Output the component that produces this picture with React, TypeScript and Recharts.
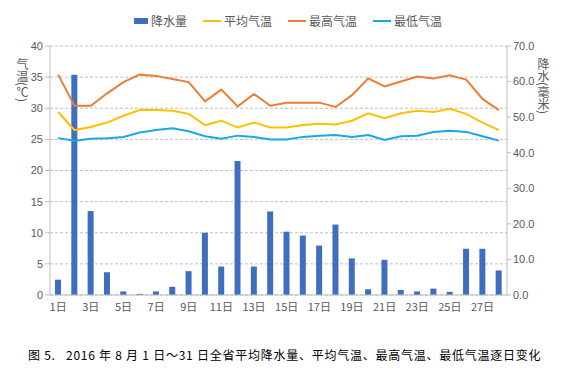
import React from 'react';
import { ComposedChart, Bar, Line, XAxis, YAxis, CartesianGrid } from 'recharts';

// 日期
const days = ['1日', '2日', '3日', '4日', '5日', '6日', '7日', '8日', '9日', '10日', '11日', '12日', '13日', '14日',
  '15日', '16日', '17日', '18日', '19日', '20日', '21日', '22日', '23日', '24日', '25日', '26日', '27日', '28日'];

// 降水量 (毫米)
const rain = [4.3, 61.9, 23.6, 6.4, 1.0, 0.3, 1.0, 2.3, 6.7, 17.5, 8.0, 37.7, 8.0, 23.5,
  17.8, 16.7, 13.9, 19.8, 10.3, 1.6, 9.9, 1.4, 1.0, 1.8, 0.9, 13.0, 13.0, 6.9];

// 平均气温 (℃)
const avgTemp = [29.4, 26.5, 27.0, 27.7, 28.8, 29.7, 29.7, 29.6, 29.1, 27.3, 28.0, 26.9, 27.7, 26.9,
  26.9, 27.3, 27.5, 27.4, 28.0, 29.2, 28.4, 29.2, 29.6, 29.4, 29.9, 29.1, 27.7, 26.5];

// 最高气温 (℃)
const maxTemp = [35.4, 30.4, 30.4, 32.4, 34.2, 35.4, 35.2, 34.7, 34.2, 31.1, 33.0, 30.3, 32.3, 30.4,
  30.9, 30.9, 30.9, 30.2, 32.1, 34.8, 33.5, 34.3, 35.1, 34.8, 35.3, 34.6, 31.5, 29.7];

// 最低气温 (℃)
const minTemp = [25.2, 24.8, 25.1, 25.2, 25.4, 26.1, 26.5, 26.8, 26.3, 25.5, 25.1, 25.6, 25.4, 25.0,
  25.0, 25.4, 25.6, 25.7, 25.4, 25.7, 24.9, 25.5, 25.6, 26.2, 26.4, 26.2, 25.5, 24.8];

const leftTicks = [0, 5, 10, 15, 20, 25, 30, 35, 40];
const rightTicks = [0, 10, 20, 30, 40, 50, 60, 70];

const data = days.map((d, i) => ({
  day: d,
  rain: rain[i],
  avg: avgTemp[i],
  max: maxTemp[i],
  min: minTemp[i],
}));

const font = '"Liberation Sans", "Noto Sans CJK SC", sans-serif';
const cjk = '"Noto Sans CJK SC", sans-serif';
const tickStyle = { fontSize: 11, fill: '#595959', fontFamily: font };

const legendItems = [
  { label: '降水量', color: '#3F6EBF', type: 'rect' },
  { label: '平均气温', color: '#FFC000', type: 'line' },
  { label: '最高气温', color: '#ED7D31', type: 'line' },
  { label: '最低气温', color: '#1AA7E8', type: 'line' },
];

export default function App() {
  return (
    <div style={{ position: 'fixed', left: 0, top: 0, width: 576, height: 376, background: '#fff', fontFamily: font }}>
      {/* 图例 */}
      <div style={{ position: 'absolute', top: 12, left: 0, width: 576, display: 'flex', justifyContent: 'center', gap: 16, fontSize: 12, color: '#595959', fontFamily: cjk }}>
        {legendItems.map(item => (
          <div key={item.label} style={{ display: 'flex', alignItems: 'center', gap: 3 }}>
            {item.type === 'rect'
              ? <span style={{ display: 'inline-block', width: 14, height: 6, background: item.color }} />
              : <span style={{ display: 'inline-block', width: 18, height: 2, background: item.color }} />}
            <span>{item.label}</span>
          </div>
        ))}
      </div>

      {/* 坐标轴标题 */}
      <div style={{ position: 'absolute', left: 14, top: 58, writingMode: 'vertical-rl', fontSize: 12, color: '#595959', fontFamily: cjk }}>
        气温(℃)
      </div>
      <div style={{ position: 'absolute', left: 535, top: 58, writingMode: 'vertical-rl', fontSize: 12, color: '#595959', fontFamily: cjk }}>
        降水(毫米)
      </div>

      <div style={{ position: 'absolute', left: 0, top: 0 }}>
        <ComposedChart width={576} height={320} data={data} margin={{ top: 46, right: 0, bottom: 0, left: 0 }}>
          <CartesianGrid yAxisId="left" vertical={false} stroke="#bfbfbf" strokeDasharray="3 2" />
          <XAxis
            dataKey="day"
            interval={1}
            height={25}
            tick={{ ...tickStyle, fontFamily: cjk }}
            tickLine={false}
            axisLine={{ stroke: '#bfbfbf' }}
          />
          <YAxis
            yAxisId="left"
            domain={[0, 40]}
            ticks={leftTicks}
            width={50}
            tick={tickStyle}
            tickSize={5}
            tickLine={{ stroke: '#bfbfbf' }}
            axisLine={{ stroke: '#bfbfbf' }}
          />
          <YAxis
            yAxisId="right"
            orientation="right"
            domain={[0, 70]}
            ticks={rightTicks}
            width={69}
            tick={tickStyle}
            tickSize={4}
            tickLine={{ stroke: '#bfbfbf' }}
            axisLine={{ stroke: '#bfbfbf' }}
            tickFormatter={(v: number) => v.toFixed(1)}
          />
          <Bar yAxisId="right" dataKey="rain" fill="#3F6EBF" barSize={6} isAnimationActive={false} />
          <Line yAxisId="left" dataKey="avg" stroke="#FFC000" strokeWidth={2} dot={false} isAnimationActive={false} />
          <Line yAxisId="left" dataKey="max" stroke="#ED7D31" strokeWidth={2} dot={false} isAnimationActive={false} />
          <Line yAxisId="left" dataKey="min" stroke="#1AA7E8" strokeWidth={2} dot={false} isAnimationActive={false} />
        </ComposedChart>
      </div>

      {/* 图注 */}
      <div style={{ position: 'absolute', left: 28, top: 346, fontSize: 12, letterSpacing: 0.75, color: '#000', whiteSpace: 'pre', fontFamily: cjk }}>
        {'图 5.   2016 年 8 月 1 日～31 日全省平均降水量、平均气温、最高气温、最低气温逐日变化'}
      </div>
    </div>
  );
}
